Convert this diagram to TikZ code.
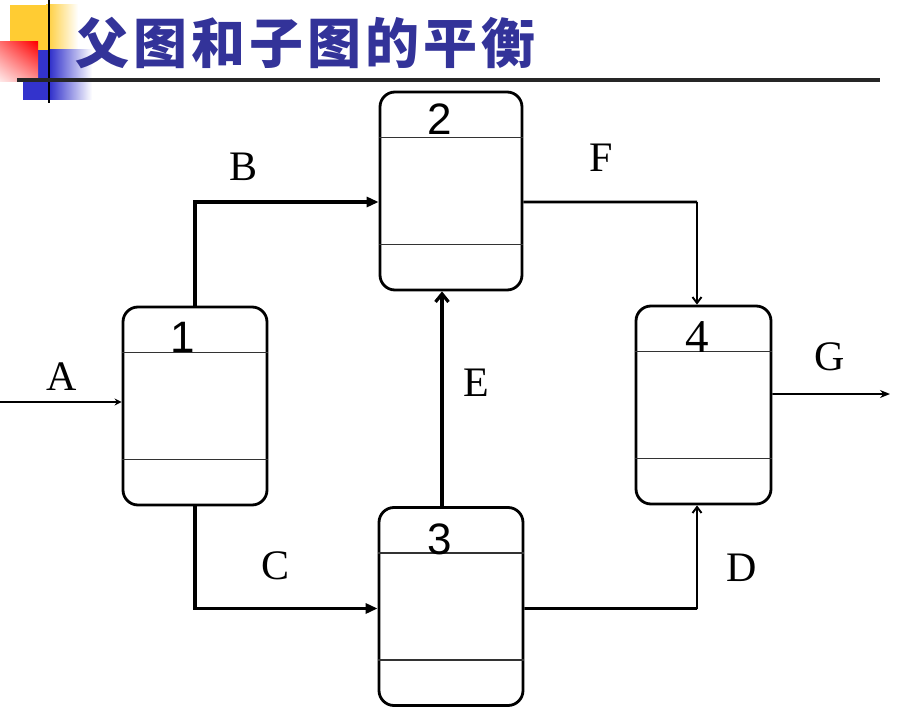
\documentclass[tikz,border=0pt]{standalone}
\usepackage{fontspec}
\setmainfont{Liberation Serif}
\newfontfamily\numsans{Liberation Sans}
\newfontfamily\cjk{Noto Sans CJK SC}
\usetikzlibrary{arrows.meta,calc,shadings}
\definecolor{titleblue}{RGB}{51,51,153}
\definecolor{decoyellow}{RGB}{255,204,51}
\definecolor{decoblue}{RGB}{51,51,204}
\definecolor{redA}{RGB}{255,110,110}
\definecolor{redB}{RGB}{255,150,150}
\definecolor{redC}{RGB}{255,235,235}
\tikzset{
  proc/.style={draw, line width=2.8bp, rounded corners=15bp, minimum width=144bp, minimum height=198bp, inner sep=0pt},
  sepline/.style={line width=1.5bp, black!80},
  numlabel/.style={font=\numsans\fontsize{44bp}{44bp}\selectfont, inner sep=0pt},
  flowlabel/.style={font=\fontsize{42bp}{42bp}\selectfont, inner sep=0pt},
  thickflow/.style={line width=3.2bp, -{Triangle[length=12bp,width=10bp]}},
  barbflow/.style={line width=3.2bp, -{Straight Barb[length=8bp,width=13bp]}},
  smallbarb/.style={line width=1.9bp, -{Straight Barb[length=6bp,width=9bp]}},
  thinflow/.style={line width=1.9bp, -{Stealth[length=10bp,width=8bp]}}
}
\begin{document}
\begin{tikzpicture}[x=1bp,y=-1bp]
\useasboundingbox (0,0) rectangle (909,711);
% decoration
\fill[decoyellow] (10,5) rectangle (46,50);
\shade[left color=decoyellow, right color=white] (46,5) rectangle (78,50);
\fill[decoblue] (23,50) rectangle (50,100);
\shade[left color=decoblue, right color=white] (50,50) rectangle (92,100);
\shade[upper right=red, upper left=redA, lower right=redB, lower left=redC] (0,42) rectangle (38,82);
\draw[line width=2.4bp] (49,0) -- (49,103);
\draw[line width=3.2bp, black!85] (17,80) -- (880,80);
% title
\node[anchor=west, inner sep=0pt, text=titleblue, font=\cjk\bfseries\fontsize{54bp}{54bp}\selectfont] (title) at (75,43) {父\hspace{4bp}图\hspace{4bp}和\hspace{4bp}子\hspace{4bp}图\hspace{4bp}的\hspace{4bp}平\hspace{4bp}衡};
% boxes
\node[proc] (p1) at (195,406) {};
\node[proc, minimum width=142bp] (p2) at (451,191) {};
\node[proc] (p3) at (451,606.5) {};
\node[proc, minimum width=135bp] (p4) at (703.5,405) {};
\foreach \p in {p1,p2,p3,p4}{
  \draw[sepline] ($(\p.north west)+(0,47)$) -- ($(\p.north east)+(0,47)$);
  \draw[sepline] ($(\p.south west)+(0,-47)$) -- ($(\p.south east)+(0,-47)$);
}
\node[numlabel] (n1) at (183,337) {1};
\node[numlabel] (n2) at (440,119) {2};
\node[numlabel] (n3) at (440,539) {3};
\node[numlabel, font=\fontsize{47bp}{47bp}\selectfont] (n4) at (697,337) {4};
% connectors
\coordinate (ain) at (0,402);
\coordinate (gout) at (890,394);
\coordinate (fc) at (697,202);
\coordinate (dc) at (697,608.5);
\draw[line width=1.9bp, -{Stealth[length=7bp,width=7bp]}] (ain) -- ([yshift=4bp]p1.west);
\draw[thickflow] (p1.north) |- ([yshift=-11bp]p2.west);
\draw[thickflow] (p1.south) |- ([yshift=-2bp]p3.west);
\draw[barbflow] ([xshift=-9bp]p3.north) -- ([xshift=-9bp]p2.south);
\draw[line width=2.8bp] ([yshift=-11bp]p2.east) -- (fc);
\draw[smallbarb] (fc) -- (fc |- p4.north);
\draw[line width=2.8bp] ([yshift=-2bp]p3.east) -- (dc);
\draw[smallbarb] (dc) -- (dc |- p4.south);
\draw[thinflow] ([yshift=11bp]p4.east) -- (gout);
% labels
\node[flowlabel] (la) at (62,377) {A};
\node[flowlabel] (lb) at (244,167) {B};
\node[flowlabel] (lc) at (276,566) {C};
\node[flowlabel] (ld) at (742,568) {D};
\node[flowlabel] (le) at (476,383) {E};
\node[flowlabel] (lf) at (601,158) {F};
\node[flowlabel] (lg) at (830,357) {G};
\end{tikzpicture}
\end{document}
